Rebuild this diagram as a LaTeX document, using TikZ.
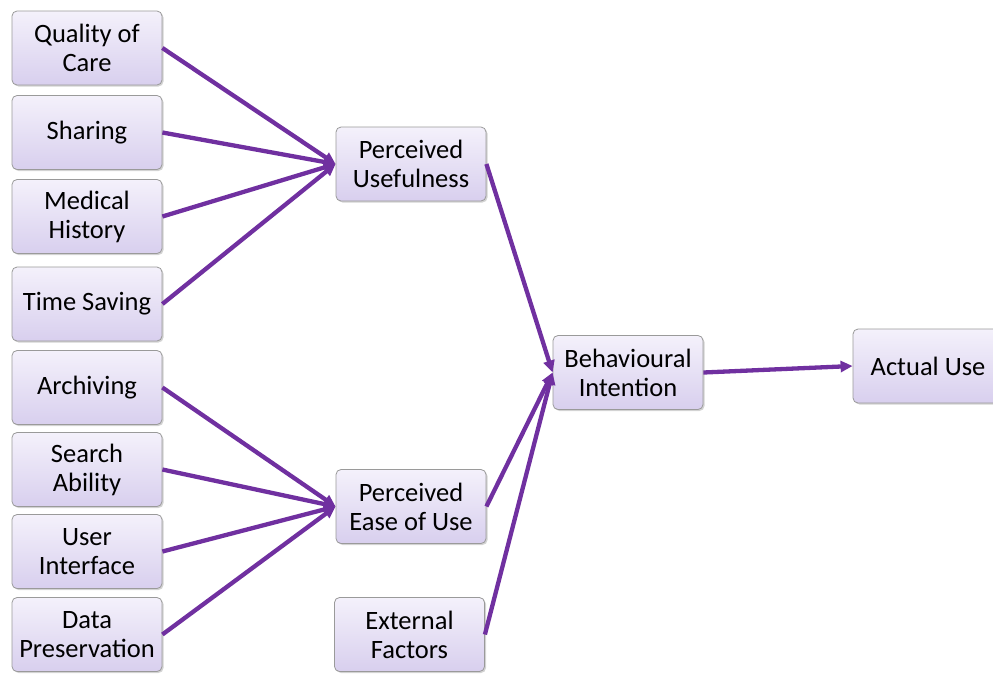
\documentclass[tikz,border=0pt]{standalone}
\usepackage{fontspec}
\setmainfont{Carlito}
\usetikzlibrary{arrows.meta,shadows}
\definecolor{arr}{HTML}{7030A0}
\definecolor{boxtop}{HTML}{F4F1FB}
\definecolor{boxbot}{HTML}{D8CFEE}
\definecolor{boxline}{HTML}{9A9A9A}
\begin{document}
\begin{tikzpicture}[x=1pt,y=-1pt,
  box/.style={draw=boxline, line width=0.8pt, rounded corners=5pt,
    top color=boxtop, bottom color=boxbot, minimum width=150pt, minimum height=74pt,
    inner sep=0pt, align=center, font=\fontsize{26.5}{29}\selectfont,
    drop shadow={shadow xshift=1.5pt, shadow yshift=-1.5pt, opacity=0.35}},
  link/.style={draw=arr, line width=4.3pt, -{Triangle[length=12pt,width=11pt]}}]
\useasboundingbox (0,0) rectangle (993,673);
\node[box] (q) at (87,48) {Quality of\\Care};
\node[box] (s) at (87,132.5) {Sharing};
\node[box] (m) at (87,216.5) {Medical\\History};
\node[box] (t) at (87,304) {Time Saving};
\node[box] (a) at (87,387.5) {Archiving};
\node[box] (sa) at (87,469.5) {Search\\Ability};
\node[box] (ui) at (87,551.5) {User\\Interface};
\node[box] (dp) at (87,634.5) {Data\\Preservation};
\node[box] (pu) at (411,164) {Perceived\\Usefulness};
\node[box] (pe) at (411,506.5) {Perceived\\Ease of Use};
\node[box] (ef) at (409.5,634.5) {External\\Factors};
\node[box] (bi) at (628,372.5) {Behavioural\\Intention};
\node[box] (au) at (928,366) {Actual Use};
\foreach \n in {q,s,m,t} \draw[link] (\n.east) -- (pu.west);
\foreach \n in {a,sa,ui,dp} \draw[link] (\n.east) -- (pe.west);
\draw[link] (pu.east) -- (bi.west);
\draw[link] (pe.east) -- (bi.west);
\draw[link] (ef.east) -- (bi.west);
\draw[link] (bi.east) -- (au.west);
\end{tikzpicture}
\end{document}
